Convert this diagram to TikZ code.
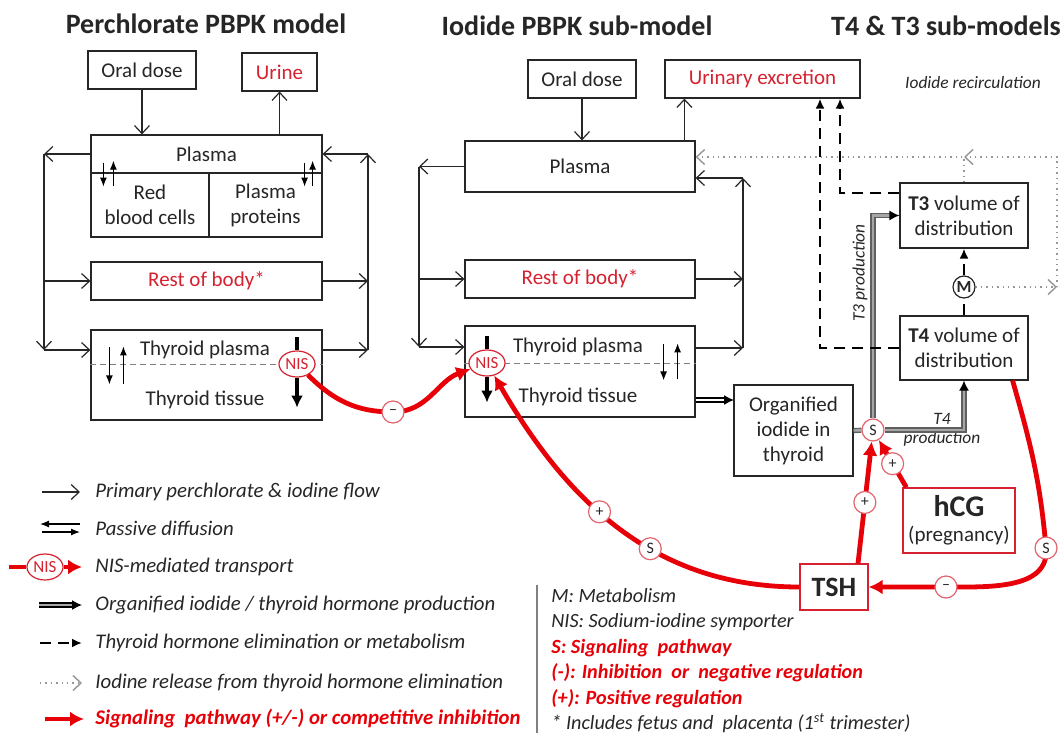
\documentclass[tikz,border=0pt]{standalone}
\usepackage{fontspec}
\setmainfont{Carlito}
\usepackage{tikz}
\usetikzlibrary{arrows.meta,shapes.geometric,positioning}

\definecolor{ink}{RGB}{38,38,38}
\definecolor{boxred}{RGB}{214,34,48}
\definecolor{sigred}{RGB}{232,0,8}
\definecolor{relgray}{RGB}{150,150,150}
\definecolor{prodgray}{RGB}{95,95,95}

\begin{document}
\begin{tikzpicture}[x=0.5pt, y=-0.5pt, font=\fontsize{10.5}{12.5}\selectfont, text=ink]
    \tikzstyle{comp}=[rectangle, draw=ink, line width=0.6pt, align=center, inner sep=1pt]
    \tikzstyle{title}=[font=\fontsize{14}{16}\selectfont\bfseries]
    \tikzstyle{flow}=[draw=ink, line width=0.6pt, -{Straight Barb[length=4pt,width=7.5pt]}]
    \tikzstyle{diff}=[draw=black, line width=0.6pt, -{Latex[length=4.5pt,width=3.5pt]}]
    \tikzstyle{nis}=[ellipse, draw=boxred, fill=white, text=boxred, line width=0.6pt, inner sep=0pt,
                     minimum width=18pt, minimum height=13pt, font=\fontsize{8.5}{9}\selectfont]
    \tikzstyle{nisflow}=[draw=black, line width=1.6pt, -{Latex[length=6pt,width=6pt]}]
    \tikzstyle{sig}=[draw=sigred, line width=2.4pt, -{Latex[length=7pt,width=7.5pt]}]
    \tikzstyle{sgn}=[circle, draw=boxred!70, fill=white, line width=0.6pt, inner sep=0pt,
                     minimum size=11pt, font=\fontsize{8}{8}\selectfont]
    \tikzstyle{prod}=[draw=prodgray, double=gray!70, double distance=1.2pt, line width=0.7pt,
                      -{Latex[length=5pt,width=5pt,black]}]
    \tikzstyle{elim}=[draw=black, line width=1.1pt, dashed, dash pattern=on 5.5pt off 3.5pt,
                      -{Latex[length=5pt,width=4.5pt]}]
    \tikzstyle{rel}=[draw=relgray, line width=0.7pt, dotted, -{Straight Barb[length=4pt,width=7.5pt]}]
    \tikzstyle{leg}=[anchor=west, inner sep=0pt, font=\fontsize{10.4}{12}\selectfont\itshape]
    \tikzstyle{lbl}=[inner sep=0pt, align=center, font=\fontsize{8.7}{9.5}\selectfont\itshape]

    \fill[white] (0,0) rectangle (1060,733);
    \useasboundingbox (0,0) rectangle (1060,733);

    % titles
    \node[title] (ttlA) at (206,24) {Perchlorate PBPK model};
    \node[title] (ttlB) at (577,26) {Iodide PBPK sub-model};
    \node[title] (ttlC) at (946,26) {T4 \& T3 sub-models};

    % perchlorate model
    \node[comp, minimum width=54pt, minimum height=19pt] (odA) at (142,70) {Oral dose};
    \node[comp, minimum width=37.5pt, minimum height=19pt, text=boxred] (urineA) at (279.5,72) {Urine};
    \node[comp, minimum width=115.5pt, minimum height=19pt] (plasmaA) at (206.5,154) {Plasma};
    \node[comp, minimum width=59pt, minimum height=32pt] (rbc) at (150,205) {Red\\blood cells};
    \node[comp, minimum width=56.5pt, minimum height=32pt] (prot) at (265.5,205) {Plasma\\proteins};
    \node[comp, minimum width=115.5pt, minimum height=19pt, text=boxred] (restA) at (206.5,281) {Rest of body*};
    \node[comp, minimum width=115.5pt, minimum height=45pt] (thyA) at (206.5,375) {};
    \node (tpA) at (205,350) {Thyroid plasma};
    \node (ttA) at (205,400) {Thyroid tissue};
    \draw[draw=gray, line width=0.5pt, densely dashed] ([yshift=5.5pt]thyA.west) -- ([yshift=5.5pt]thyA.east);
    \node[nis] (nisA) at (297,364) {NIS};
    \draw[nisflow, -] ([yshift=6.5pt]nisA.north) -- (nisA.north);
    \draw[nisflow] (nisA.south) -- ([yshift=-15pt]nisA.south);

    \draw[diff] ([shift={(13,-11)}]plasmaA.south west) -- ([shift={(13,13)}]plasmaA.south west);
    \draw[diff] ([shift={(23,12)}]plasmaA.south west) -- ([shift={(23,-13)}]plasmaA.south west);
    \draw[diff] ([shift={(-18,-11)}]plasmaA.south east) -- ([shift={(-18,13)}]plasmaA.south east);
    \draw[diff] ([shift={(-10,12)}]plasmaA.south east) -- ([shift={(-10,-13)}]plasmaA.south east);
    \draw[diff] ([shift={(19,18)}]thyA.north west) -- ([shift={(19,55)}]thyA.north west);
    \draw[diff] ([shift={(33,55)}]thyA.north west) -- ([shift={(33,17)}]thyA.north west);

    \coordinate (lA) at (44,154);
    \coordinate (lA2) at (44,350);
    \coordinate (rA) at (368,154);
    \coordinate (rA2) at (368,350);
    \draw[flow] (odA.south) -- (odA.south |- plasmaA.north);
    \draw[flow] (urineA.south |- plasmaA.north) -- (urineA.south);
    \draw[flow] (plasmaA.west) -- (lA);
    \draw[flow] (lA) -- (lA2);
    \draw[flow] (lA2) -- (lA2 -| thyA.west);
    \draw[flow] (lA |- restA) -- (restA.west);
    \draw[flow] (restA.east) -- (restA -| rA);
    \draw[flow] (rA2 -| thyA.east) -- (rA2);
    \draw[flow] (rA2) -- (rA);
    \draw[flow] (rA) -- (plasmaA.east);

    % iodide sub-model
    \node[comp, minimum width=54pt, minimum height=19pt] (odB) at (582,79) {Oral dose};
    \node[comp, minimum width=97.5pt, minimum height=19pt, text=boxred] (urineB) at (762.5,79) {Urinary excretion};
    \node[comp, minimum width=115pt, minimum height=25.5pt] (plasmaB) at (580,166.5) {Plasma};
    \node[comp, minimum width=115pt, minimum height=19pt, text=boxred] (restB) at (580,279) {Rest of body*};
    \node[comp, minimum width=115pt, minimum height=45.5pt] (thyB) at (580,371.5) {};
    \node (tpB) at (578,347) {Thyroid plasma};
    \node (ttB) at (578,397) {Thyroid tissue};
    \draw[draw=gray, line width=0.5pt, densely dashed] ([yshift=4.25pt]thyB.west) -- ([yshift=4.25pt]thyB.east);
    \node[nis] (nisB) at (487,363) {NIS};
    \draw[nisflow, -] ([yshift=6.5pt]nisB.north) -- (nisB.north);
    \draw[nisflow] (nisB.south) -- ([yshift=-13pt]nisB.south);
    \node[comp, minimum width=59.5pt, minimum height=45.5pt] (org) at (793.5,430.5) {Organified\\iodide in\\thyroid};

    \draw[diff] ([shift={(-32,19)}]thyB.north east) -- ([shift={(-32,55)}]thyB.north east);
    \draw[diff] ([shift={(-18,54)}]thyB.north east) -- ([shift={(-18,18)}]thyB.north east);

    \coordinate (lB) at (419,166.5);
    \coordinate (lB2) at (419,347);
    \coordinate (rB) at (743,178);
    \coordinate (rB2) at (743,348);
    \coordinate (uB) at ([xshift=10pt]urineB.south west);
    \coordinate (orgIn) at (734,400);
    \draw[flow] (odB.south) -- (odB.south |- plasmaB.north);
    \draw[flow] (uB |- plasmaB.north) -- (uB);
    \draw[flow] (plasmaB.west) -- (lB);
    \draw[flow] (lB) -- (lB2);
    \draw[flow] (lB2) -- (lB2 -| thyB.west);
    \draw[flow] (lB |- restB) -- (restB.west);
    \draw[flow] (restB.east) -- (restB -| rB);
    \draw[flow] (rB2 -| thyB.east) -- (rB2);
    \draw[flow] (rB2) -- (rB);
    \draw[flow] (rB) -- (rB -| plasmaB.east);
    \draw[prod, draw=black, double=white] (orgIn -| thyB.east) -- (orgIn);

    % T4 & T3 sub-models
    \node[comp, minimum width=64pt, minimum height=32.5pt] (t3) at (964,215.5) {\textbf{T3} volume of\\distribution};
    \node[comp, minimum width=64pt, minimum height=32pt] (t4) at (964,348) {\textbf{T4} volume of\\distribution};
    \node[sgn, draw=ink, font=\fontsize{8.5}{9}\selectfont\bfseries] (mC) at (964,287) {M};
    \node[sgn] (sC) at (873,430) {S};
    \node[lbl, rotate=90] (t3lbl) at (860,273) {T3 production};
    \node[lbl] (t4lbl) at (942,430) {T4\\production};
    \node[lbl] (recirc) at (973,83) {Iodide recirculation};

    \draw[prod, -] (org.east) -- (sC);
    \draw[prod] (sC) |- (t3.west);
    \draw[prod] (sC) -| (t4.south);
    \draw[elim, -] (t4.north) -- (mC);
    \draw[elim] (mC) -- (t3.south);

    \coordinate (e3) at (840,193);
    \coordinate (e4) at (820,348);
    \draw[elim] (e3 -| t3.west) -- (e3) -- (e3 |- urineB.south);
    \draw[elim] (t4.west) -- (e4) -- (e4 |- urineB.south);

    \coordinate (rtop) at (1057,157);
    \coordinate (rright) at (1057,287);
    \draw[rel] (mC) -- (rright);
    \draw[rel] (rright) -- (rtop) -- (rtop -| t3.north);
    \draw[rel] (t3.north) -- (t3.north |- rtop) -- (rtop -| plasmaB.east);

    % signaling
    \node[comp, draw=boxred, minimum width=56pt, minimum height=32.5pt] (hcg) at (959,520.5)
        {{\fontsize{15}{16}\selectfont\bfseries hCG}\\[0pt](pregnancy)};
    \node[comp, draw=boxred, minimum width=34pt, minimum height=23pt,
          font=\fontsize{14}{15}\selectfont\bfseries] (tsh) at (834,587) {TSH};

    \coordinate (kA) at (393,412);
    \coordinate (kS) at (1046,548);
    \coordinate (kM) at (946,587);
    \draw[sig] (nisA) to[out=-45, in=180] (kA) node[sgn] (mA) {\textendash}
        to[out=0, in=-160] (nisB);
    \draw[sig] (tsh.west) to[out=180, in=-60]
        node[sgn, pos=0.4] (sB) {S} node[sgn, pos=0.57] (pB) {+} (nisB);
    \draw[sig] ([xshift=12pt]tsh.north) -- node[sgn] (pT) {+} (sC);
    \draw[sig] ([xshift=2pt]hcg.north west) -- node[sgn] (pH) {+} (sC);
    \draw[sig] ([xshift=-8pt]t4.south east) to[out=-74, in=95] (kS) node[sgn] (sR) {S}
        to[out=-85, in=0] (kM) node[sgn] (mR) {\textendash} -- (tsh);

    % legend
    \node[leg] (lg1) at (95,492) {Primary perchlorate \& iodine flow};
    \node[leg] (lg2) at (95,528) {Passive diffusion};
    \node[leg] (lg3) at (95,567) {NIS-mediated transport};
    \node[leg] (lg4) at (95,605) {Organified iodide / thyroid hormone production};
    \node[leg] (lg5) at (95,643) {Thyroid hormone elimination or metabolism};
    \node[leg] (lg6) at (95,683) {Iodine release from thyroid hormone elimination};
    \node[leg, text=sigred, font=\fontsize{10.4}{12}\selectfont\bfseries\itshape] (lg7) at (95,719)
        {Signaling\ \ pathway (+/-) or competitive inhibition};
    \node[nis] (nisL) at (45,567) {NIS};

    \draw[flow] ([xshift=-26.5pt]lg1.west) -- ([xshift=-7.5pt]lg1.west);
    \draw[diff] ([shift={(-15,-4)}]lg2.west) -- ([shift={(-55,-4)}]lg2.west);
    \draw[diff] ([shift={(-53,4)}]lg2.west) -- ([shift={(-15,4)}]lg2.west);
    \draw[sig, -] ([xshift=-8.5pt]nisL.west) -- (nisL.west);
    \draw[sig] (nisL.east) -- ([xshift=-6.5pt]lg3.west);
    \draw[prod, draw=black] ([xshift=-28pt]lg4.west) -- ([xshift=-6.5pt]lg4.west);
    \draw[elim] ([xshift=-27.5pt]lg5.west) -- ([xshift=-6.5pt]lg5.west);
    \draw[rel] ([xshift=-27.5pt]lg6.west) -- ([xshift=-6.5pt]lg6.west);
    \draw[sig] ([xshift=-25pt]lg7.west) -- ([xshift=-5.5pt]lg7.west);

    \draw[draw=gray, line width=0.6pt] (537,585) -- (537,733);
    \node[leg, anchor=north west, align=left, font=\fontsize{10.1}{12.7}\selectfont\itshape] (notes) at (551,588)
        {M: Metabolism\\
         NIS: Sodium-iodine symporter\\
         {\color{sigred}\bfseries S: Signaling\ \ pathway}\\
         {\color{sigred}\bfseries (-): Inhibition\ \ or\ \ negative regulation}\\
         {\color{sigred}\bfseries (+): Positive regulation}\\
         * Includes fetus and\ \ placenta (1\textsuperscript{st} trimester)};
\end{tikzpicture}
\end{document}
